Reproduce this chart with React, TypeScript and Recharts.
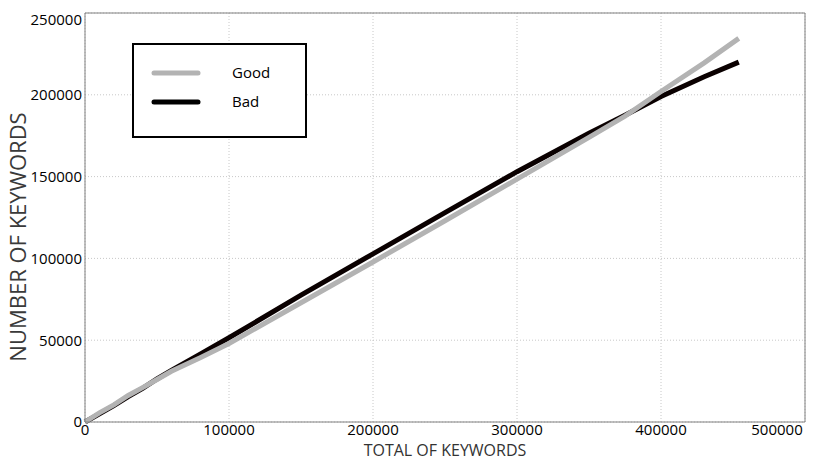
import { LineChart, Line, XAxis, YAxis, CartesianGrid, ReferenceLine } from 'recharts'

// values
const totals = [0, 10000, 20000, 30000, 40000, 50000, 60000, 80000, 100000, 150000, 200000, 250000, 300000, 350000, 375000, 400000, 430000, 454000]
const good = [0, 5600, 10500, 16200, 21000, 26000, 31000, 39300, 48000, 72900, 97800, 123000, 148500, 174000, 187000, 202000, 219500, 234500]
const bad = [0, 5000, 10000, 15500, 20500, 26300, 31500, 41500, 51500, 77500, 102800, 128000, 153000, 176500, 187500, 199000, 211000, 220000]

const xTicks = [0, 100000, 200000, 300000, 400000, 500000]
const yTicks = [0, 50000, 100000, 150000, 200000, 250000]

const data = totals.map((t, i) => ({ total: t, good: good[i], bad: bad[i] }))

const font = '"Open Sans", sans-serif'

function YTick(props: any) {
  const { x, y, payload } = props
  const shift = payload.value === 250000 ? 7 : 0
  return (
    <text x={x} y={y + shift} dy="0.355em" textAnchor="end" fontSize={15} fontFamily={font} fill="#000">
      {payload.value}
    </text>
  )
}

function XTick(props: any) {
  const { x, y, payload } = props
  const shift = payload.value === 500000 ? -16 : 0
  return (
    <text x={x + shift} y={y} dy="0.71em" textAnchor="middle" fontSize={15} fontFamily={font} fill="#000">
      {payload.value}
    </text>
  )
}

function LegendBox() {
  return (
    <svg width={175} height={96} style={{ position: 'absolute', left: 132, top: 43 }}>
      <rect x={1} y={1} width={173} height={93} fill="#fff" stroke="#000" strokeWidth={2} />
      <line x1={22} y1={30} x2={66} y2={30} stroke="#b3b3b3" strokeWidth={5} strokeLinecap="round" />
      <line x1={22} y1={59} x2={66} y2={59} stroke="#000" strokeWidth={5} strokeLinecap="round" />
      <text x={100} y={30} dy="0.35em" fontSize={15} fontFamily={font} fill="#000">Good</text>
      <text x={100} y={59} dy="0.35em" fontSize={15} fontFamily={font} fill="#000">Bad</text>
    </svg>
  )
}

export default function App() {
  return (
    <div style={{ position: 'absolute', left: 0, top: 0, width: 817, height: 459, background: '#fff' }}>
      <LineChart width={817} height={459} data={data} margin={{ top: 13, right: 12, left: 0, bottom: 0 }}>
        <CartesianGrid stroke="#c8c8c8" strokeDasharray="1 2" />
        <XAxis
          dataKey="total"
          type="number"
          domain={[0, 500000]}
          ticks={xTicks}
          height={37}
          tickLine={false}
          tickSize={0}
          tickMargin={2}
          axisLine={{ stroke: '#808080' }}
          tick={<XTick />}
          label={{ value: 'TOTAL OF KEYWORDS', position: 'insideBottom', offset: 3, fontSize: 16, fontFamily: font, fill: '#333' }}
        />
        <YAxis
          type="number"
          domain={[0, 250000]}
          ticks={yTicks}
          width={85}
          tickLine={false}
          tickSize={0}
          tickMargin={3}
          axisLine={{ stroke: '#808080' }}
          tick={<YTick />}
          label={{
            content: () => (
              <text x={18} y={237} transform="rotate(-90 18 237)" textAnchor="middle" dy="0.355em" fontSize={22} fontFamily={font} fill="#3a3a3a">
                NUMBER OF KEYWORDS
              </text>
            ),
          }}
        />
        <ReferenceLine y={250000} stroke="#808080" />
        <ReferenceLine x={500000} stroke="#808080" />
        <Line type="linear" dataKey="bad" name="Bad" stroke="#0a0000" strokeWidth={5} dot={false} isAnimationActive={false} />
        <Line type="linear" dataKey="good" name="Good" stroke="#b3b3b3" strokeWidth={5} dot={false} isAnimationActive={false} />
      </LineChart>
      <LegendBox />
    </div>
  )
}
